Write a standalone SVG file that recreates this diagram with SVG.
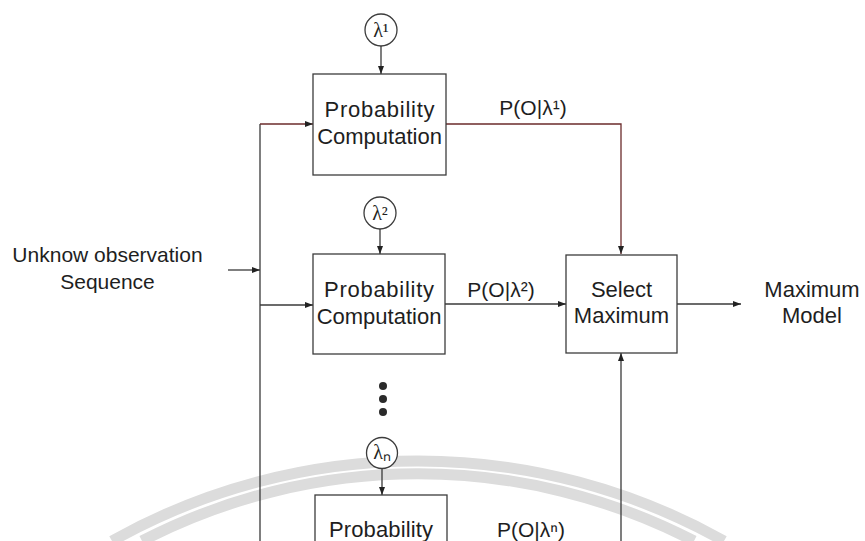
<svg xmlns="http://www.w3.org/2000/svg" width="865" height="541" viewBox="0 0 865 541">
  <style>
    .box { fill: #ffffff; stroke: #3c3c3c; stroke-width: 1.3; }
    .lbl { font-family: "Liberation Sans", Arial, sans-serif; font-size: 21px; fill: #1e1e1e; text-anchor: middle; }
    .big { font-size: 22px; }
    .ring { fill: #ffffff; stroke: #3c3c3c; stroke-width: 1.3; }
    .sym { font-family: "Liberation Serif", "Times New Roman", serif; font-size: 20px; fill: #1e1e1e; text-anchor: middle; }
    .wire { fill: none; stroke: #3a3a3a; stroke-width: 1.3; }
    .wire.red { stroke: #6b2b2b; }
    .mark { fill: none; stroke: #dcdcdc; stroke-width: 11; }
  </style>
  <defs>
    <marker id="arrow" viewBox="0 0 8 6" refX="8" refY="3" markerWidth="8" markerHeight="6" markerUnits="userSpaceOnUse" orient="auto">
      <path d="M0,0 L8,3 L0,6 z" fill="#222222"/>
    </marker>
  </defs>

  <rect width="865" height="541" fill="#ffffff"/>

  <!-- faint background arcs -->
  <g id="backdrop">
    <path class="mark" d="M 112 541 A 625 625 0 0 1 724 541"/>
    <path class="mark" d="M 142 541 A 600 600 0 0 1 694 541"/>
  </g>

  <!-- connectors -->
  <g id="connectors">
    <!-- input bus -->
    <line class="wire" x1="228" y1="270" x2="260" y2="270" marker-end="url(#arrow)"/>
    <line class="wire" x1="260" y1="124" x2="260" y2="541"/>
    <line class="wire red" x1="260" y1="124" x2="313" y2="124" marker-end="url(#arrow)"/>
    <line class="wire" x1="260" y1="305" x2="313" y2="305" marker-end="url(#arrow)"/>
    <!-- model parameters into each computation -->
    <line class="wire" x1="381" y1="46" x2="381" y2="74" marker-end="url(#arrow)"/>
    <line class="wire" x1="380" y1="229" x2="380" y2="254" marker-end="url(#arrow)"/>
    <line class="wire" x1="382" y1="468" x2="382" y2="495" marker-end="url(#arrow)"/>
    <!-- likelihoods into selector -->
    <polyline class="wire red" points="446,124 621,124 621,254" marker-end="url(#arrow)"/>
    <line class="wire" x1="445" y1="304" x2="566" y2="304" marker-end="url(#arrow)"/>
    <line class="wire" x1="621" y1="541" x2="621" y2="353" marker-end="url(#arrow)"/>
    <!-- output -->
    <line class="wire" x1="677" y1="304" x2="741" y2="304" marker-end="url(#arrow)"/>
  </g>

  <g id="lambda1">
    <circle class="ring" cx="381" cy="30" r="16"/>
    <text class="sym" x="381" y="37">λ¹</text>
  </g>
  <g id="prob1">
    <rect class="box" x="313" y="74" width="133" height="101"/>
    <text class="lbl big" x="379.5" y="117" textLength="110" lengthAdjust="spacing">Probability</text>
    <text class="lbl big" x="379.5" y="144">Computation</text>
  </g>
  <text class="lbl" x="533" y="115">P(O|λ¹)</text>

  <g id="lambda2">
    <circle class="ring" cx="380" cy="213" r="16"/>
    <text class="sym" x="380" y="220">λ²</text>
  </g>
  <g id="prob2">
    <rect class="box" x="313" y="254" width="132" height="100"/>
    <text class="lbl big" x="379" y="297" textLength="110" lengthAdjust="spacing">Probability</text>
    <text class="lbl big" x="379" y="324">Computation</text>
  </g>
  <text class="lbl" x="501" y="297">P(O|λ²)</text>

  <g id="select">
    <rect class="box" x="566" y="255" width="111" height="98"/>
    <text class="lbl big" x="621.5" y="297">Select</text>
    <text class="lbl big" x="621.5" y="323">Maximum</text>
  </g>

  <g id="input">
    <text class="lbl" x="107.5" y="262">Unknow observation</text>
    <text class="lbl" x="107.5" y="289">Sequence</text>
  </g>

  <g id="output">
    <text class="lbl big" x="812" y="297">Maximum</text>
    <text class="lbl big" x="812" y="323">Model</text>
  </g>

  <g id="ellipsis" fill="#2a2a2a">
    <circle cx="383" cy="386" r="4"/>
    <circle cx="383" cy="399" r="4"/>
    <circle cx="383" cy="412" r="4"/>
  </g>

  <g id="lambdaN">
    <circle class="ring" cx="382" cy="453" r="15.5"/>
    <text class="sym" x="382" y="459">λₙ</text>
  </g>
  <g id="probN">
    <rect class="box" x="315" y="495" width="132" height="60"/>
    <text class="lbl big" x="381" y="537" textLength="104" lengthAdjust="spacing">Probability</text>
  </g>
  <text class="lbl" x="531" y="537">P(O|λⁿ)</text>
</svg>
